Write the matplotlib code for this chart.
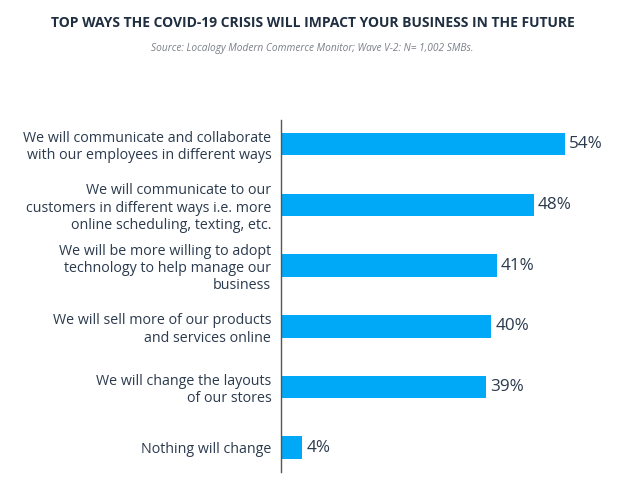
import numpy as np
import matplotlib
matplotlib.use("Agg")
import matplotlib.pyplot as plt

categories = [
    "We will communicate and collaborate\nwith our employees in different ways",
    "We will communicate to our\ncustomers in different ways i.e. more\nonline scheduling, texting, etc.",
    "We will be more willing to adopt\ntechnology to help manage our\nbusiness",
    "We will sell more of our products\nand services online",
    "We will change the layouts\nof our stores",
    "Nothing will change",
]
values = [54, 48, 41, 40, 39, 4]

title = "TOP WAYS THE COVID-19 CRISIS WILL IMPACT YOUR BUSINESS IN THE FUTURE"
source = "Source: Localogy Modern Commerce Monitor; Wave V-2: N= 1,002 SMBs."

bar_color = "#00a9f7"
text_color = "#2b3a4d"

plt.rcParams['font.family'] = ['Open Sans', 'DejaVu Sans']

fig = plt.figure(figsize=(6.25, 4.83), dpi=100)
ax = fig.add_axes([0.4496, 0.0228, 0.505, 0.7288])

y = np.arange(len(categories))
ax.barh(y, values, height=0.37, color=bar_color)
for yi, v in zip(y, values):
    ax.text(v + 0.8, yi, "%d%%" % v, va='center', ha='left', fontsize=12.3, color=text_color)

ax.set_xlim(0, 60)
ax.set_ylim(len(categories) - 0.6, -0.4)
ax.set_yticks(y)
ax.set_yticklabels(categories, fontsize=10.3, color=text_color, linespacing=1.2)
ax.tick_params(axis='y', length=0, pad=7)
ax.set_xticks([])
for side in ['top', 'right', 'bottom']:
    ax.spines[side].set_visible(False)
ax.spines['left'].set_color('#555555')
ax.spines['left'].set_linewidth(1)

fig.text(0.5, 1 - 23 / 483, title, ha='center', va='center', fontsize=10,
         fontweight='bold', color='#1f2e40')
fig.text(0.5, 1 - 49 / 483, source, ha='center', va='center', fontsize=7.3,
         style='italic', color='#7a7f88')

fig.savefig("out.png", dpi=100)
